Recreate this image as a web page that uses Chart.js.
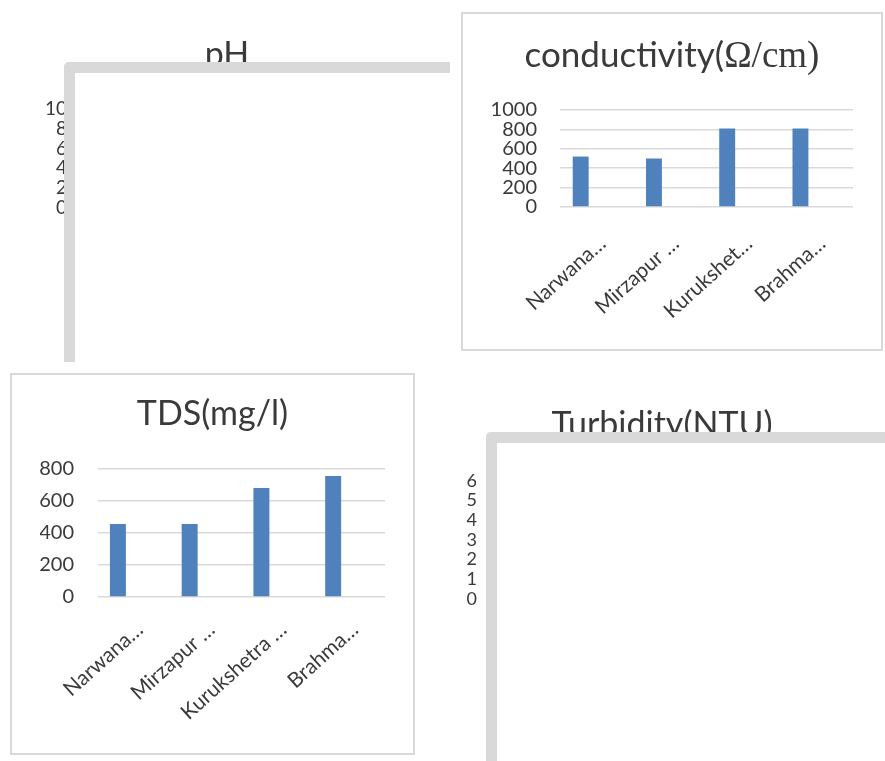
<!DOCTYPE html>
<html>
<head>
<meta charset="utf-8">
<script src="https://cdn.jsdelivr.net/npm/chart.js@4.4.1/dist/chart.umd.min.js"></script>
<style>
  html, body { margin: 0; padding: 0; background: #fff; }
  body { width: 885px; height: 761px; position: relative; overflow: hidden; font-family: Lato, sans-serif; }
  .panel { position: absolute; box-sizing: border-box; }
  .boxed { border: 2px solid #d9d9d9; }
  canvas { position: absolute; left: 0; top: 0; }
  /* the grey frames that sit on top of the pH and turbidity charts in the source */
  .frame { position: absolute; box-sizing: border-box; background: #fff;
           border-top: 11px solid #d9d9d9; border-left: 11px solid #d9d9d9; border-top-left-radius: 5px; }
  .ctitle { position: absolute; left: 0; width: 100%; text-align: center;
            font-size: 35px; line-height: 35px; color: #3a3a3a; white-space: nowrap; }
  .ctitle .serif { font-family: "Liberation Serif", serif; font-size: 37px; }
</style>
</head>
<body>

<div class="panel" style="left:0;top:0;width:454px;height:362px">
  <canvas id="phChart" width="454" height="362"></canvas>
</div>
<div class="frame" style="left:64px;top:62px;width:386px;height:300px"></div>

<div class="panel boxed" style="left:461px;top:12px;width:422px;height:339px">
  <canvas id="condChart" width="418" height="335"></canvas>
  <div class="ctitle" style="top:22px">conductivity(<span class="serif">Ω/cm)</span></div>
</div>

<div class="panel boxed" style="left:10px;top:373px;width:405px;height:382px">
  <canvas id="tdsChart" width="401" height="378"></canvas>
</div>

<div class="panel" style="left:440px;top:390px;width:444px;height:371px">
  <canvas id="turbChart" width="444" height="371"></canvas>
</div>
<div class="frame" style="left:486px;top:432px;width:399px;height:329px"></div>

<script>
// category labels as they are cut off in each chart
const condLabels = ['Narwana…', 'Mirzapur …', 'Kurukshet…', 'Brahma…'];
const tdsLabels = ['Narwana…', 'Mirzapur …', 'Kurukshetra …', 'Brahma…'];
const sites = ['Narwana', 'Mirzapur', 'Kurukshetra', 'Brahma'];

// values
const condValues = [520, 500, 810, 810];
const tdsValues = [455, 455, 680, 755];
// pH and turbidity bars are hidden under the grey frames in the source
const phValues = [null, null, null, null];
const turbValues = [null, null, null, null];

// y axis ranges: [max, step]
const phAxis = [10, 2];
const condAxis = [1000, 200];
const tdsAxis = [800, 200];
const turbAxis = [6, 1];

const ink = '#3a3a3a';

function barChart(id, o) {
    return new Chart(document.getElementById(id), {
        type: 'bar',
        data: {
            labels: o.labels,
            datasets: [
                { data: o.values, backgroundColor: '#4f81bd', barPercentage: 0.5, categoryPercentage: o.cat },
                // empty slot so the bars sit left of the category centre like the source
                { data: [], barPercentage: 0.5, categoryPercentage: o.cat }
            ]
        },
        options: {
            responsive: false,
            animation: false,
            devicePixelRatio: 1,
            layout: { padding: o.pad },
            plugins: {
                legend: { display: false },
                tooltip: { enabled: false },
                title: o.title ? {
                    display: true,
                    text: o.title,
                    color: ink,
                    font: { family: 'Lato', size: 34, weight: 'normal' },
                    padding: o.titlePad
                } : { display: false }
            },
            scales: {
                x: {
                    grid: { display: false },
                    border: { display: false },
                    ticks: {
                        display: o.showX,
                        color: ink,
                        font: { family: 'Lato', size: 21 },
                        minRotation: 42,
                        maxRotation: 42,
                        autoSkip: false,
                        labelOffset: 6,
                        padding: o.xPad
                    },
                    afterFit: s => { s.height = o.xHeight; }
                },
                y: {
                    min: 0,
                    max: o.axis[0],
                    grid: { color: '#d9d9d9', lineWidth: 1.5, drawTicks: false },
                    border: { display: false },
                    ticks: {
                        stepSize: o.axis[1],
                        autoSkip: false,
                        format: { useGrouping: false },
                        color: ink,
                        font: { family: 'Lato', size: o.yFont },
                        padding: o.yPad
                    },
                    afterFit: s => { s.width = o.yWidth; }
                }
            }
        }
    });
}

barChart('phChart', {
    labels: sites, values: phValues, axis: phAxis, title: 'pH',
    titlePad: { top: 35, bottom: 33 }, pad: { left: 20, right: 20, top: 0, bottom: 0 },
    yWidth: 70, yPad: 23, yFont: 19, xHeight: 154, xPad: 16, showX: false, cat: 0.87
});

barChart('condChart', {
    labels: condLabels, values: condValues, axis: condAxis, title: null,
    pad: { left: 0, right: 28, top: 96, bottom: 0 },
    yWidth: 97, yPad: 23, yFont: 20, xHeight: 142, xPad: 16, showX: true, cat: 0.87
});

barChart('tdsChart', {
    labels: tdsLabels, values: tdsValues, axis: tdsAxis, title: 'TDS(mg/l)',
    titlePad: { top: 19, bottom: 34 }, pad: { left: 28, right: 28, top: 0, bottom: 0 },
    yWidth: 58, yPad: 24, yFont: 20, xHeight: 156, xPad: 12, showX: true, cat: 0.89
});

barChart('turbChart', {
    labels: sites, values: turbValues, axis: turbAxis, title: 'Turbidity(NTU)',
    titlePad: { top: 15, bottom: 35 }, pad: { left: 10, right: 10, top: 0, bottom: 0 },
    yWidth: 50, yPad: 23, yFont: 18, xHeight: 162, xPad: 16, showX: false, cat: 0.87
});
</script>
</body>
</html>
